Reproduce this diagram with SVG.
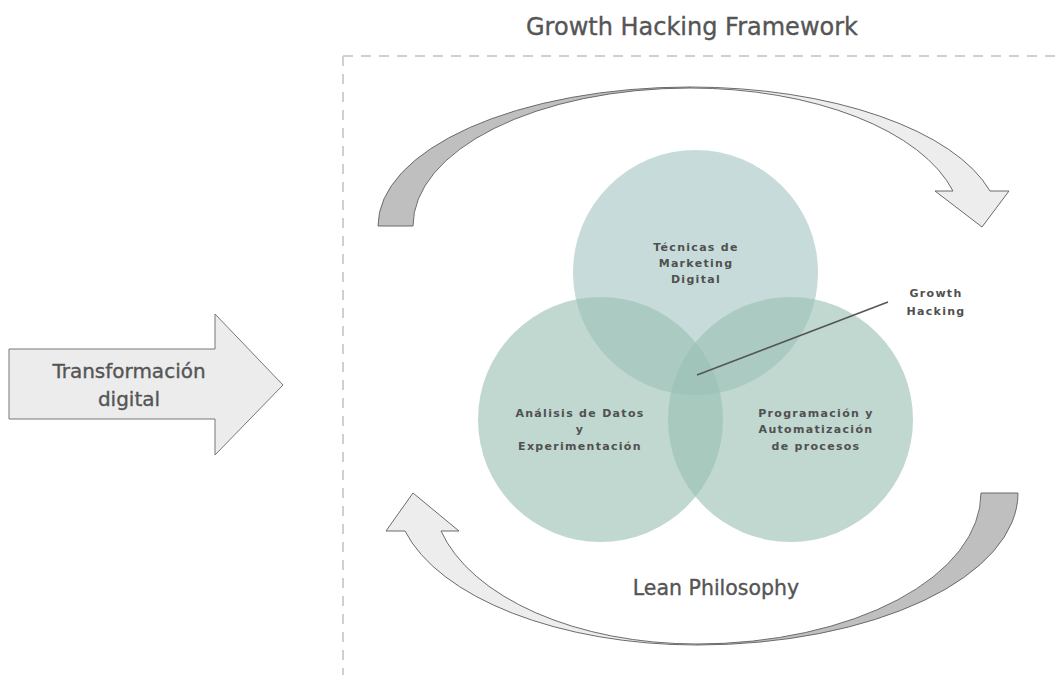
<svg xmlns="http://www.w3.org/2000/svg" width="1057" height="675" viewBox="0 0 1057 675">
  <style>
    .title { font-family: "DejaVu Sans", "Liberation Sans", sans-serif; fill: #555555; stroke: #555555; stroke-width: 0.35px; }
    .venn-label { font-family: "DejaVu Sans", "Liberation Sans", sans-serif; font-weight: bold; font-size: 11px; letter-spacing: 1.3px; fill: #505050; text-anchor: middle; }
    .frame { stroke: #d0d0d0; stroke-width: 2; stroke-dasharray: 10 8; fill: none; }
    .ribbon-back { fill: #bfbfbf; stroke: #6b6b6b; stroke-width: 1; stroke-linejoin: round; }
    .ribbon-front { fill: #ededed; stroke: #6b6b6b; stroke-width: 1; stroke-linejoin: round; }
    .venn { fill-opacity: 0.62; }
  </style>

  <rect width="1057" height="675" fill="#ffffff"/>

  <!-- framework boundary -->
  <g id="frame">
    <line class="frame" x1="343" y1="56" x2="1057" y2="56"/>
    <line class="frame" x1="343" y1="56" x2="343" y2="675"/>
  </g>

  <g id="title">
    <text class="title" x="692" y="35" font-size="24" text-anchor="middle">Growth Hacking Framework</text>
  </g>

  <!-- input arrow -->
  <g id="transformacion">
    <path d="M9,349 H215 V314 L283,385 L215,455 V419 H9 Z" fill="#ececec" stroke="#777777" stroke-width="1"/>
    <text class="title" x="129" y="378" font-size="20" text-anchor="middle">Transformación</text>
    <text class="title" x="129" y="406" font-size="20" text-anchor="middle">digital</text>
  </g>

  <!-- upper curved arrow -->
  <g id="loop-top">
    <path class="ribbon-back" d="M378,226 A312,139 0 0 1 690,87 L690,88 A277,138 0 0 0 413,226 Z"/>
    <path class="ribbon-front" d="M690,87 A310,139 0 0 1 990,191 L1009,191 L982,227 L935,191 L953,191 A272,138 0 0 0 690,88 Z"/>
  </g>

  <!-- lower curved arrow -->
  <g id="loop-bottom">
    <path class="ribbon-back" d="M1018,493 A321,152 0 0 1 697,645 L697,644 A284,151 0 0 0 981,493 Z"/>
    <path class="ribbon-front" d="M697,645 A302,152 0 0 1 405,531 L386,531 L413,493 L459,531 L441,531 A264,151 0 0 0 697,644 Z"/>
  </g>

  <!-- Venn circles -->
  <g id="circle-marketing">
    <circle class="venn" cx="695.5" cy="272.5" r="122.5" fill="#a5c7c3"/>
  </g>
  <g id="circle-datos">
    <circle class="venn" cx="600.5" cy="419.5" r="122.5" fill="#99c0b3"/>
  </g>
  <g id="circle-programacion">
    <circle class="venn" cx="790.5" cy="419.5" r="122.5" fill="#99c0b3"/>
  </g>

  <g id="labels">
    <text class="venn-label" x="696" y="251">Técnicas de</text>
    <text class="venn-label" x="696" y="267">Marketing</text>
    <text class="venn-label" x="696" y="283">Digital</text>

    <text class="venn-label" x="580" y="417">Análisis de Datos</text>
    <text class="venn-label" x="580" y="433">y</text>
    <text class="venn-label" x="580" y="450">Experimentación</text>

    <text class="venn-label" x="816" y="417">Programación y</text>
    <text class="venn-label" x="816" y="433">Automatización</text>
    <text class="venn-label" x="816" y="450">de procesos</text>
  </g>

  <!-- callout for the shared centre -->
  <g id="connectors">
    <line x1="697" y1="375" x2="888" y2="302" stroke="#555555" stroke-width="1.5"/>
  </g>
  <g id="growth-hacking">
    <text class="venn-label" x="936" y="297" font-size="12" letter-spacing="1.6">Growth</text>
    <text class="venn-label" x="936" y="315" font-size="12" letter-spacing="1.6">Hacking</text>
  </g>

  <g id="lean">
    <text class="title" x="716" y="595" font-size="20.5" text-anchor="middle">Lean Philosophy</text>
  </g>
</svg>
